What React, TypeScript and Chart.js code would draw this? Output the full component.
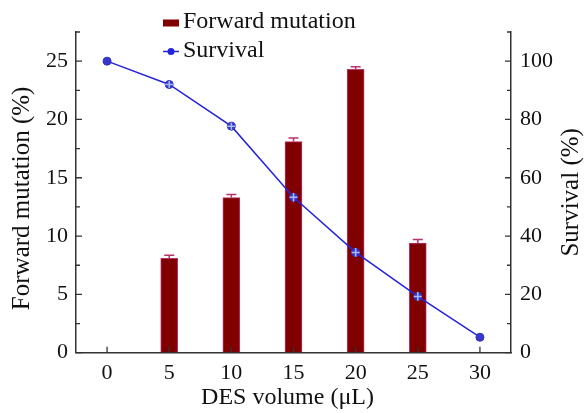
import { useEffect, useRef } from 'react';
import { Chart, registerables } from 'chart.js';
Chart.register(...registerables);

const doses = [0, 5, 10, 15, 20, 25, 30];
const mutationDoses = [5, 10, 15, 20, 25];
const mutation = [8.1, 13.3, 18.1, 24.3, 9.4];
const mutationErr = [0.25, 0.27, 0.3, 0.22, 0.3];
const survival = [100, 92, 77.7, 53.3, 34.4, 19.3, 5.3];
const survivalErr = [0, 1.2, 1.2, 1.5, 1.5, 1.5, 0];
const xTicks = [0, 5, 10, 15, 20, 25, 30];
const leftTicks = [0, 5, 10, 15, 20, 25];
const leftMinorTicks = [2.5, 7.5, 12.5, 17.5, 22.5, 27.5];
const rightTicks = [0, 20, 40, 60, 80, 100];
const rightMinorTicks = [10, 30, 50, 70, 90, 110];
const xTitle = 'DES volume (μL)';
const leftTitle = 'Forward mutation (%)';
const rightTitle = 'Survival (%)';

const FONT = '"Liberation Serif", "Times New Roman", serif';
const AXIS = '#333333';
const BAR = '#800000';
const BAR_EDGE = '#b8336e';
const LINE = '#2424dc';

const tickPlugin = {
  id: 'innerTicks',
  afterDraw(chart: any) {
    const { ctx, chartArea } = chart;
    const x = chart.scales.x, y = chart.scales.y, y1 = chart.scales.y1;
    ctx.save();
    ctx.strokeStyle = AXIS;
    ctx.lineWidth = 1.3;
    ctx.beginPath();
    xTicks.forEach((v) => {
      const px = x.getPixelForValue(v);
      ctx.moveTo(px, chartArea.bottom);
      ctx.lineTo(px, chartArea.bottom - 6);
    });
    leftTicks.forEach((v) => {
      const py = y.getPixelForValue(v);
      ctx.moveTo(chartArea.left, py);
      ctx.lineTo(chartArea.left + 6, py);
    });
    leftMinorTicks.forEach((v) => {
      const py = y.getPixelForValue(v);
      ctx.moveTo(chartArea.left, py);
      ctx.lineTo(chartArea.left + 4, py);
    });
    rightTicks.forEach((v) => {
      const py = y1.getPixelForValue(v);
      ctx.moveTo(chartArea.right, py);
      ctx.lineTo(chartArea.right - 6, py);
    });
    rightMinorTicks.forEach((v) => {
      const py = y1.getPixelForValue(v);
      ctx.moveTo(chartArea.right, py);
      ctx.lineTo(chartArea.right - 4, py);
    });
    ctx.stroke();
    ctx.restore();
  },
};

const titlePlugin = {
  id: 'axisTitles',
  afterDraw(chart: any) {
    const { ctx, chartArea } = chart;
    ctx.save();
    ctx.fillStyle = '#111';
    ctx.textAlign = 'center';
    ctx.textBaseline = 'middle';
    ctx.font = `24px ${FONT}`;
    ctx.fillText(xTitle, (chartArea.left + chartArea.right) / 2 - 6, 398);
    ctx.font = `25px ${FONT}`;
    ctx.save();
    ctx.translate(22, (chartArea.top + chartArea.bottom) / 2 + 6);
    ctx.rotate(-Math.PI / 2);
    ctx.fillText(leftTitle, 0, 0);
    ctx.restore();
    ctx.save();
    ctx.translate(571, (chartArea.top + chartArea.bottom) / 2);
    ctx.rotate(-Math.PI / 2);
    ctx.fillText(rightTitle, 0, 0);
    ctx.restore();
    ctx.restore();
  },
};

const errorPlugin = {
  id: 'errorBars',
  afterDatasetsDraw(chart: any) {
    const { ctx } = chart;
    const y = chart.scales.y, y1 = chart.scales.y1;
    ctx.save();
    const barMeta = chart.getDatasetMeta(1);
    ctx.strokeStyle = BAR_EDGE;
    ctx.lineWidth = 1.5;
    barMeta.data.forEach((el: any, i: number) => {
      const top = y.getPixelForValue(mutation[i] + mutationErr[i]);
      ctx.beginPath();
      ctx.moveTo(el.x, el.y);
      ctx.lineTo(el.x, top);
      ctx.moveTo(el.x - 5, top);
      ctx.lineTo(el.x + 5, top);
      ctx.stroke();
    });
    const lineMeta = chart.getDatasetMeta(0);
    ctx.strokeStyle = '#a8bcf0';
    ctx.lineWidth = 1.5;
    lineMeta.data.forEach((el: any, i: number) => {
      const e = survivalErr[i];
      if (!e) return;
      const a = y1.getPixelForValue(survival[i] - e);
      const b = y1.getPixelForValue(survival[i] + e);
      ctx.beginPath();
      ctx.moveTo(el.x, a);
      ctx.lineTo(el.x, b);
      ctx.moveTo(el.x - 4, el.y);
      ctx.lineTo(el.x + 4, el.y);
      ctx.stroke();
    });
    ctx.restore();
  },
};

const legendPlugin = {
  id: 'customLegend',
  afterDraw(chart: any) {
    const { ctx } = chart;
    const ds = chart.data.datasets;
    ctx.save();
    ctx.font = `24px ${FONT}`;
    ctx.textBaseline = 'middle';
    ctx.textAlign = 'left';
    ctx.fillStyle = BAR;
    ctx.fillRect(163, 19.5, 16, 7);
    ctx.fillStyle = '#111';
    ctx.fillText(ds[1].label, 183, 22);
    ctx.strokeStyle = LINE;
    ctx.lineWidth = 1.5;
    ctx.beginPath();
    ctx.moveTo(163, 51.5);
    ctx.lineTo(179, 51.5);
    ctx.stroke();
    ctx.fillStyle = LINE;
    ctx.beginPath();
    ctx.arc(171, 51.5, 3.5, 0, Math.PI * 2);
    ctx.fill();
    ctx.fillStyle = '#111';
    ctx.fillText(ds[0].label, 183, 51);
    ctx.restore();
  },
};

export default function App() {
  const ref = useRef<HTMLCanvasElement>(null);
  useEffect(() => {
    if (!ref.current) return;
    const chart = new Chart(ref.current, {
      type: 'line',
      data: {
        datasets: [
          {
            type: 'line',
            label: 'Survival',
            data: doses.map((d, i) => ({ x: d, y: survival[i] })),
            yAxisID: 'y1',
            borderColor: LINE,
            borderWidth: 1.5,
            pointRadius: 4,
            pointBackgroundColor: '#3838cc',
            pointBorderColor: '#3030c0',
            pointBorderWidth: 1,
            tension: 0,
            order: 0,
          } as any,
          {
            type: 'bar',
            label: 'Forward mutation',
            data: mutationDoses.map((d, i) => ({ x: d, y: mutation[i] })),
            yAxisID: 'y',
            backgroundColor: BAR,
            borderColor: BAR_EDGE,
            borderWidth: 1,
            barThickness: 17,
            order: 1,
          } as any,
        ],
      },
      options: {
        animation: false,
        responsive: true,
        maintainAspectRatio: false,
        layout: { padding: { top: 32, left: 0, right: 0, bottom: 0 } },
        plugins: { legend: { display: false }, tooltip: { enabled: false } },
        scales: {
          x: {
            type: 'linear',
            min: -2.5,
            max: 32.5,
            offset: false,
            afterBuildTicks: (s: any) => { s.ticks = xTicks.map((v) => ({ value: v })); },
            afterFit: (s: any) => { s.height = 60.3; },
            grid: { display: true, drawOnChartArea: false, drawTicks: false },
            border: { display: true, color: AXIS, width: 1.5 },
            ticks: { padding: 7, color: '#111', font: { family: FONT, size: 22 } },
          },
          y: {
            type: 'linear',
            position: 'left',
            min: 0,
            max: 27.5,
            afterBuildTicks: (s: any) => { s.ticks = leftTicks.map((v) => ({ value: v })); },
            afterFit: (s: any) => { s.width = 76; },
            grid: { display: true, drawOnChartArea: false, drawTicks: false },
            border: { display: true, color: AXIS, width: 1.5 },
            ticks: { padding: 8, color: '#111', font: { family: FONT, size: 22 } },
          },
          y1: {
            type: 'linear',
            position: 'right',
            min: 0,
            max: 110,
            afterBuildTicks: (s: any) => { s.ticks = rightTicks.map((v) => ({ value: v })); },
            afterFit: (s: any) => { s.width = 73; },
            grid: { display: true, drawOnChartArea: false, drawTicks: false },
            border: { display: true, color: AXIS, width: 1.5 },
            ticks: { padding: 9, color: '#111', font: { family: FONT, size: 22 } },
          },
        },
      },
      plugins: [tickPlugin, errorPlugin, legendPlugin, titlePlugin],
    });
    return () => chart.destroy();
  }, []);
  return (
    <div style={{ position: 'absolute', left: 0, top: 0, width: 584, height: 413, background: '#fff' }}>
      <canvas ref={ref} />
    </div>
  );
}
